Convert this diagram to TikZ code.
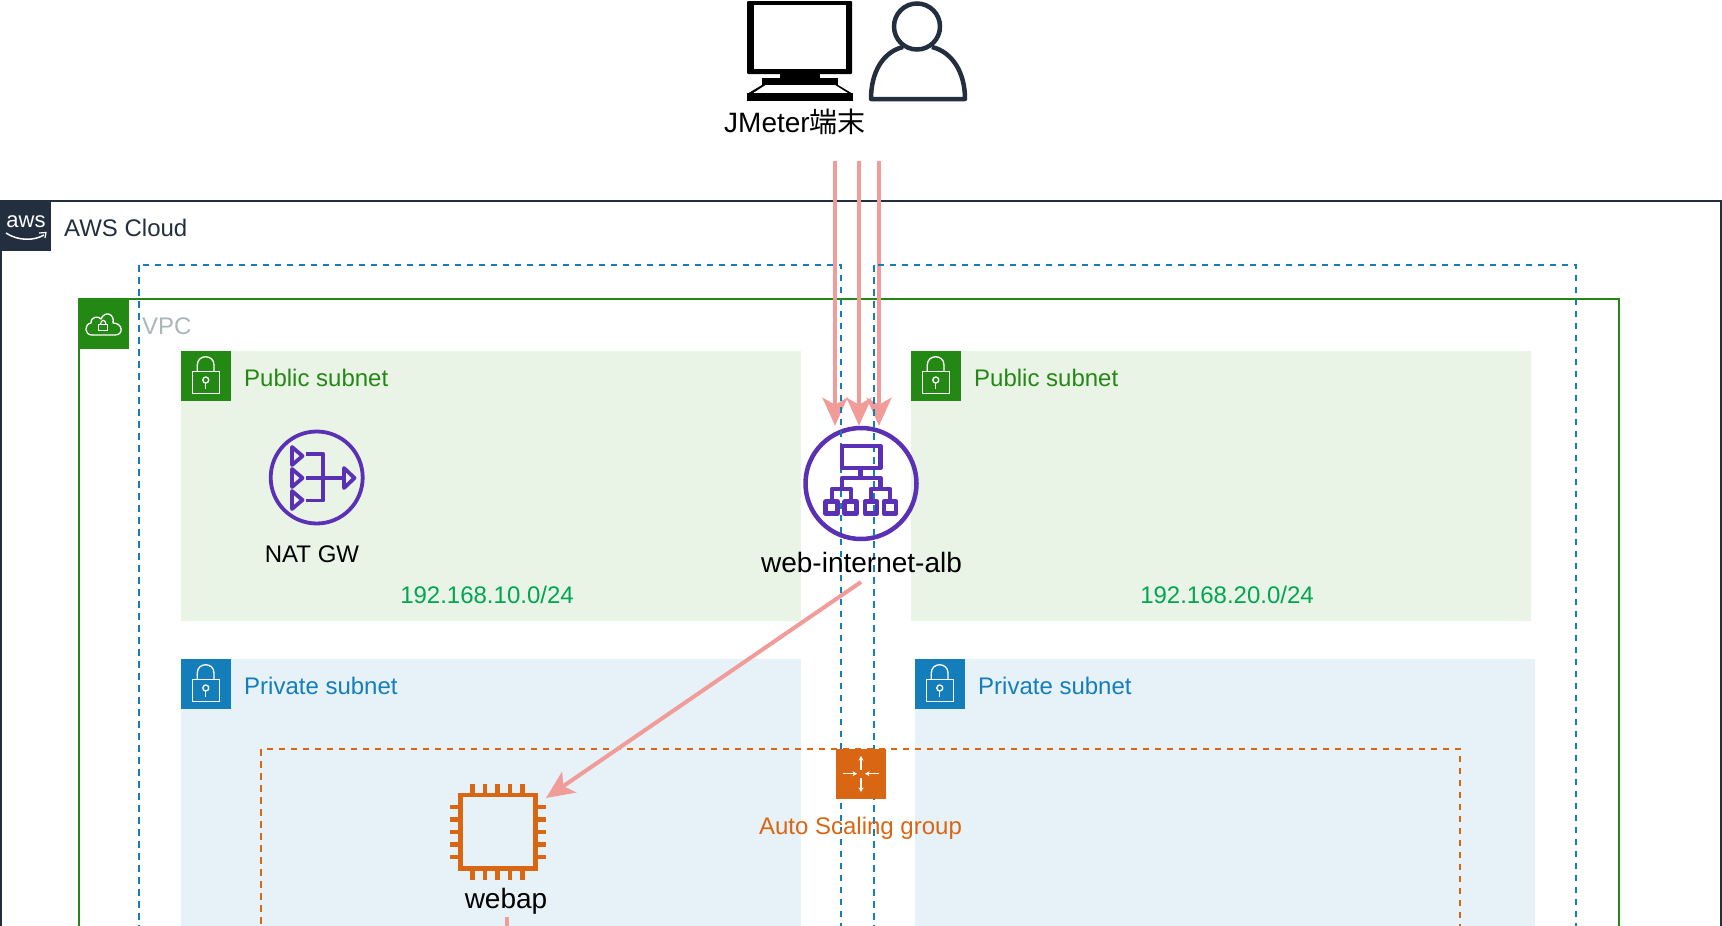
\documentclass[tikz,border=0pt]{standalone}
\usepackage{fontspec}
\setmainfont{Liberation Sans}
\newfontfamily\cjkfont{Noto Sans CJK JP}
\usetikzlibrary{arrows.meta}
\definecolor{awsdark}{HTML}{232F3E}
\definecolor{vpcgreen}{HTML}{248814}
\definecolor{azblue}{HTML}{147EBA}
\definecolor{asgorange}{HTML}{D86613}
\definecolor{iconpurple}{HTML}{5A30B5}
\definecolor{pubfill}{HTML}{E9F3E6}
\definecolor{privfill}{HTML}{E6F2F8}
\definecolor{flowpink}{HTML}{F19C99}
\definecolor{vpcgrey}{HTML}{AAB7B8}
\definecolor{cidrgreen}{HTML}{00A651}
\tikzset{
  lbl/.style={inner sep=0pt,text height=22.4pt,text depth=5pt},
  t24/.style={lbl,font=\fontsize{24}{28}\selectfont},
  t28/.style={lbl,font=\fontsize{28}{32}\selectfont,text height=26pt,text depth=6pt},
  badge/.style={fill=#1,draw=none},
  zone/.style={line width=2pt,draw=#1},
  azbox/.style={draw=azblue,line width=2pt,dash pattern=on 6.5pt off 5.5pt},
  asgbox/.style={draw=asgorange,line width=2pt,dash pattern=on 6.5pt off 5.5pt},
  flow/.style={draw=flowpink,line width=4pt,-{Stealth[length=28pt,width=25pt,inset=7pt]},shorten >=0pt},
  stub/.style={draw=flowpink,line width=4pt},
  purp/.style={draw=iconpurple,line width=4.5pt,line join=round},
  purpthin/.style={draw=iconpurple,line width=3.8pt,line join=round},
  ecline/.style={draw=asgorange,line width=4.2pt},
  lockline/.style={draw=white,line width=1.3pt,line join=round},
  lockicon/.pic={
    \draw[lockline] (11.7,20.7) rectangle (38.3,42.3);
    \draw[lockline] (16.3,20.7) -- (16.3,14) .. controls (16.3,3) and (33,3) .. (33,14) -- (33,20.7);
    \draw[lockline] (24.8,29) circle (3);
    \draw[lockline] (24.8,32) -- (24.8,38);
  },
}
\begin{document}
\begin{tikzpicture}[x=1pt,y=-1pt]
\useasboundingbox (0,0) rectangle (1722,926);
\clip (0,0) rectangle (1722,926);
\fill[white] (0,0) rectangle (1722,926);

% terminal
\fill[black,rounded corners=1pt] (747,1) rectangle (852,74);
\fill[white] (754,5) rectangle (845.5,69);
\fill[black] (780,73) rectangle (820,79);
\fill[black] (762,78) rectangle (838,85);
\fill[black] (762,85) -- (838,85) -- (853,94) -- (747,94) -- cycle;
\fill[white] (765.7,85) -- (835,85) -- (847.7,93) -- (753.3,93) -- cycle;
\fill[black] (747,93) rectangle (853,100.7);
% user
\draw[draw=awsdark,line width=4.5pt] (917,26.5) circle (23);
\draw[draw=awsdark,line width=4.5pt,line join=round] (903,47) .. controls (883,52) and (871,72) .. (871,99) -- (965,99) .. controls (965,72) and (952,52) .. (932,47);
\node[t28] (jmeter) at (795,122) {JMeter{\cjkfont 端末}};

% AWS cloud
\draw[zone=awsdark] (1,201) rectangle (1721,960);
\fill[awsdark] (0,200) rectangle (51,251);
\node[inner sep=0pt,text=white,font=\fontsize{22}{22}\selectfont] (awslogo) at (26,222) {aws};
\draw[white,line width=1.5pt] (6,233) .. controls (18,241) and (34,241) .. (44,235);
\draw[white,line width=1.2pt] (39,233) -- (46,232.5) -- (45,238);
\node[t24,anchor=west,text=awsdark] (awslabel) at (64,228) {AWS Cloud};

% VPC
\draw[zone=vpcgreen] (79,299) rectangle (1619,960);
\fill[vpcgreen] (78,298) rectangle (129,349);
\draw[white,line width=1.3pt,line join=round] (92,335) .. controls (84,335) and (84,324) .. (91,323) .. controls (91,316) and (99,316) .. (101,319) .. controls (105,310) and (115,314) .. (113,323) .. controls (123,323) and (124,335) .. (115,335) -- cycle;
\draw[white,line width=1.2pt] (98.7,324.5) rectangle (107.7,330.7);
\draw[white,line width=1.2pt] (100.5,324.5) .. controls (100.5,319) and (106,319) .. (106,324.5);
\node[t24,anchor=west,text=vpcgrey] (vpclabel) at (142,326) {VPC};

% subnets
\fill[pubfill] (181,351) rectangle (801,621);
\fill[pubfill] (911,351) rectangle (1531,621);
\fill[privfill] (181,659) rectangle (801,960);
\fill[privfill] (915,659) rectangle (1535,960);
\fill[vpcgreen] (181,351) rectangle (231,401);
\fill[vpcgreen] (911,351) rectangle (961,401);
\fill[azblue] (181,659) rectangle (231,709);
\fill[azblue] (915,659) rectangle (965,709);
\pic at (181,351) {lockicon};
\pic at (911,351) {lockicon};
\pic at (181,659) {lockicon};
\pic at (915,659) {lockicon};
\node[t24,anchor=west,text=vpcgreen] (pub1) at (244,378) {Public subnet};
\node[t24,anchor=west,text=vpcgreen] (pub2) at (974,378) {Public subnet};
\node[t24,anchor=west,text=azblue] (priv1) at (244,686) {Private subnet};
\node[t24,anchor=west,text=azblue] (priv2) at (978,686) {Private subnet};
\node[t24,text=cidrgreen] (cidr1) at (487,595) {192.168.10.0/24};
\node[t24,text=cidrgreen] (cidr2) at (1227,595) {192.168.20.0/24};

% auto scaling group
\draw[asgbox] (261,749) rectangle (1460,960);

% ALB node and connector end points
\node[circle,purp,minimum size=111pt,inner sep=0pt] (alb) at (861,483.5) {};
\coordinate (src1) at (835,161);
\coordinate (src2) at (859,161);
\coordinate (src3) at (879,161);
\coordinate (albout) at (861,582);
\coordinate (webin) at (546,798);
\coordinate (webout) at (507,917);
\coordinate (stubend) at (507,930);

% connectors
\draw[flow] (src1) -- (src1 |- alb.north);
\draw[flow] (src2) -- (src2 |- alb.north);
\draw[flow] (src3) -- (src3 |- alb.north);
\draw[flow] (albout) -- (webin);
\draw[stub] (webout) -- (stubend);

% availability zones
\draw[azbox] (139,265) rectangle (841,960);
\draw[azbox] (874,265) rectangle (1576,960);

% ALB glyph
\draw[purp] (842,446) rectangle (880.5,468);
\draw[purp] (860.7,468) -- (860.7,478);
\draw[purp] (842,489) -- (842,478) -- (880.5,478) -- (880.5,489);
\draw[purp] (832,501) -- (832,489) -- (851,489) -- (851,501);
\draw[purp] (871,501) -- (871,489) -- (890,489) -- (890,501);
\foreach \cx in {831.7,850.7,871,890}
  \draw[purp] (\cx-6,501.7) rectangle (\cx+6,513.7);
\node[t28] (alblabel) at (861.5,562) {web-internet-alb};

% NAT icon
\node[circle,purpthin,minimum size=92pt,inner sep=0pt] (nat) at (316.7,477.5) {};
\foreach \cy in {456,478,500}
  \draw[purpthin] (292,\cy-9) -- (302.5,\cy) -- (292,\cy+9) -- cycle;
\draw[purpthin] (306,454) -- (323.3,454) -- (323.3,500.5) -- (306,500.5);
\draw[purpthin] (306,478) -- (343.5,478);
\draw[purpthin] (344,468) -- (354.5,478) -- (344,488) -- cycle;
\node[t24] (natlabel) at (312,554) {NAT GW};

% ASG icon
\fill[asgorange] (836,749) rectangle (886,799);
\draw[white,line width=1.3pt,-{Stealth[length=4.5pt,width=5pt]}] (861,770) -- (861,756);
\draw[white,line width=1.3pt,-{Stealth[length=4.5pt,width=5pt]}] (861,778) -- (861,792);
\draw[white,line width=1.3pt,-{Stealth[length=4.5pt,width=5pt]}] (843,773.7) -- (857,773.7);
\draw[white,line width=1.3pt,-{Stealth[length=4.5pt,width=5pt]}] (878.5,773.7) -- (865,773.7);
\node[t24,text=asgorange] (asglabel) at (860.5,826) {Auto Scaling group};

% EC2 icon
\draw[ecline] (460.5,795) rectangle (535.5,868.5);
\foreach \p in {472.5,485,497.5,510,522.5} {
  \draw[ecline] (\p,784) -- (\p,794);
  \draw[ecline] (\p,870) -- (\p,880);
}
\foreach \p in {807,819.5,832,844.5,857} {
  \draw[ecline] (450,\p) -- (460,\p);
  \draw[ecline] (536,\p) -- (546,\p);
}
\node[t28] (weblabel) at (506,898) {webap};
\end{tikzpicture}
\end{document}
